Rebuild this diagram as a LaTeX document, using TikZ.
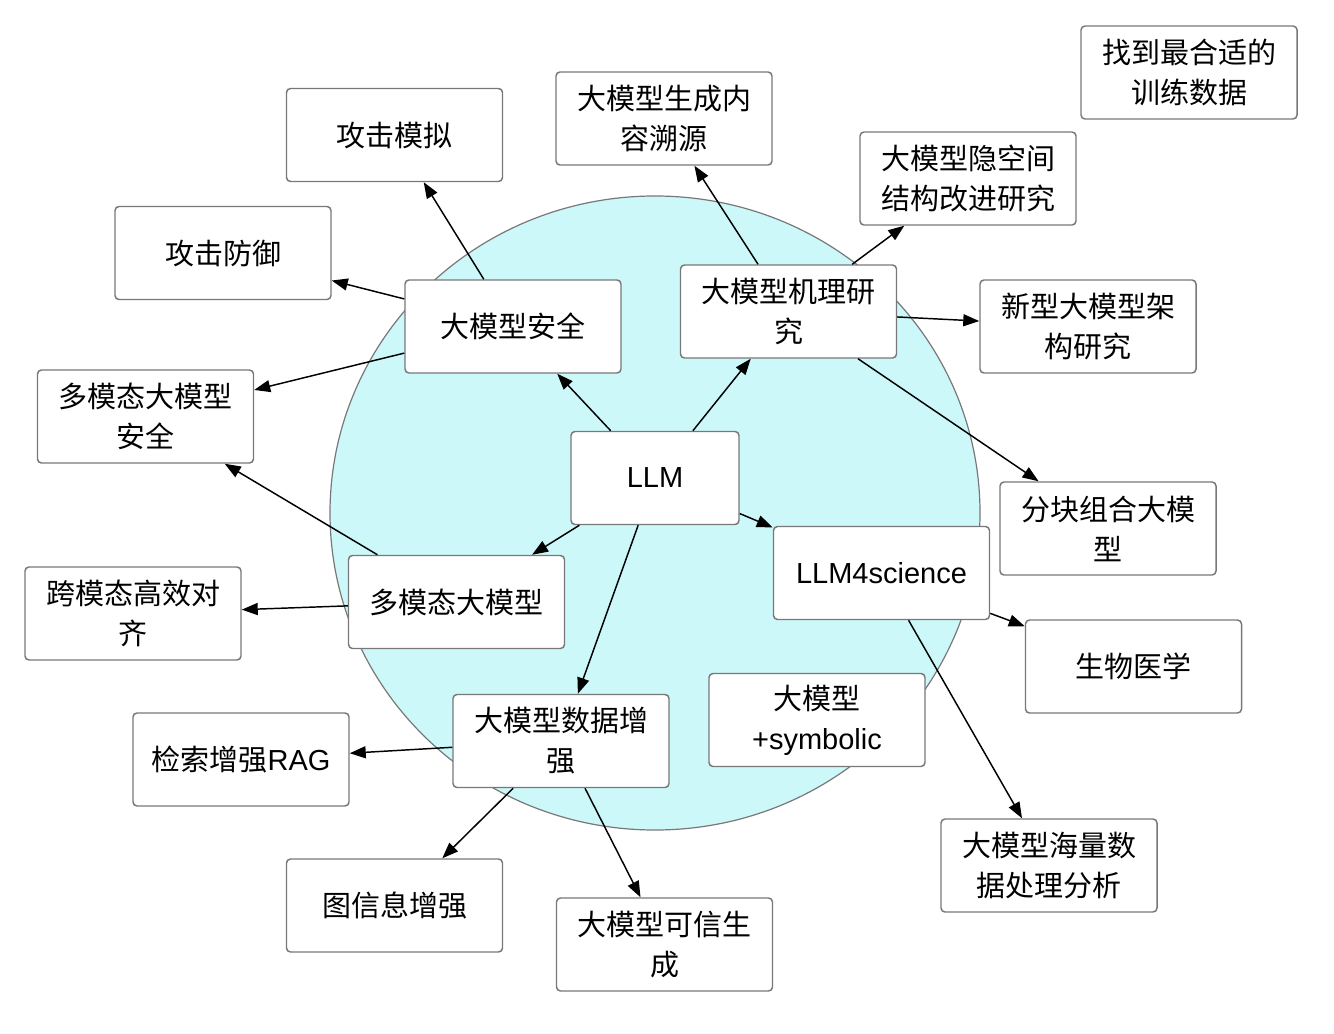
\documentclass[tikz,border=0pt]{standalone}
\usepackage{fontspec}
\setmainfont{Noto Sans CJK SC}
\newfontfamily\lat{Liberation Sans}
\usetikzlibrary{arrows.meta}
\definecolor{circfill}{RGB}{205,248,250}
\definecolor{boxline}{RGB}{120,120,120}
\tikzset{
  box/.style={draw=boxline, line width=1.1pt, rounded corners=3pt, fill=white,
    minimum width=162pt, minimum height=69.75pt, inner sep=0pt, align=center,
    font=\fontsize{21.75}{30}\selectfont},
  conn/.style={line width=1.1pt, -{Triangle[length=12pt,width=9pt]}}
}
\begin{document}
\begin{tikzpicture}[x=0.75pt,y=-0.75pt]
\useasboundingbox (0,0) rectangle (1334,1034);
\fill[white] (0,0) rectangle (1334,1034);
\draw[fill=circfill, draw=boxline, line width=0.9pt] (655,513) ellipse [x radius=325, y radius=317];

\node[box] (gjmn) at (394.5,135) {攻击模拟};
\node[box] (sy) at (664,118.5) {大模型生成内\\容溯源};
\node[box] (ykj) at (968,178.5) {大模型隐空间\\结构改进研究};
\node[box] (zd) at (1189,72.5) {找到最合适的\\训练数据};
\node[box] (gjfy) at (223,253) {攻击防御};
\node[box] (aq) at (513,326.5) {大模型安全};
\node[box] (jl) at (788.5,311.5) {大模型机理研\\究};
\node[box] (xx) at (1088,326.5) {新型大模型架\\构研究};
\node[box] (dmtaq) at (145.5,416.5) {多模态大模型\\安全};
\node[box, minimum width=126pt] (llm) at (655,478) {\lat LLM};
\node[box] (fk) at (1108,528.5) {分块组合大模\\型};
\node[box] (sci) at (881.5,573) {\lat LLM4science};
\node[box] (dmt) at (456.5,602) {多模态大模型};
\node[box] (kmt) at (133,613.5) {跨模态高效对\\齐};
\node[box] (sw) at (1133.5,666.5) {生物医学};
\node[box] (sym) at (817,720) {大模型\\{\lat +symbolic}};
\node[box] (sjzq) at (561,741) {大模型数据增\\强};
\node[box] (rag) at (241,759.5) {检索增强{\lat RAG}};
\node[box] (txx) at (394.5,905.5) {图信息增强};
\node[box] (kx) at (664.5,944.5) {大模型可信生\\成};
\node[box] (hl) at (1049,865.5) {大模型海量数\\据处理分析};

\draw[conn] (aq) -- (gjmn);
\draw[conn] (aq) -- (gjfy);
\draw[conn] (aq) -- (dmtaq);
\draw[conn] (llm) -- (aq);
\draw[conn] (llm) -- (jl);
\draw[conn] (jl) -- (sy);
\draw[conn] (jl) -- (ykj);
\draw[conn] (jl) -- (xx);
\draw[conn] (jl) -- (fk);
\draw[conn] (llm) -- (sci);
\draw[conn] (llm) -- (dmt);
\draw[conn] (llm) -- (sjzq);
\draw[conn] (dmt) -- (dmtaq);
\draw[conn] (dmt) -- (kmt);
\draw[conn] (sci) -- (sw);
\draw[conn] (sci) -- (hl);
\draw[conn] (sjzq) -- (rag);
\draw[conn] (sjzq) -- (txx);
\draw[conn] (sjzq) -- (kx);
\end{tikzpicture}
\end{document}
